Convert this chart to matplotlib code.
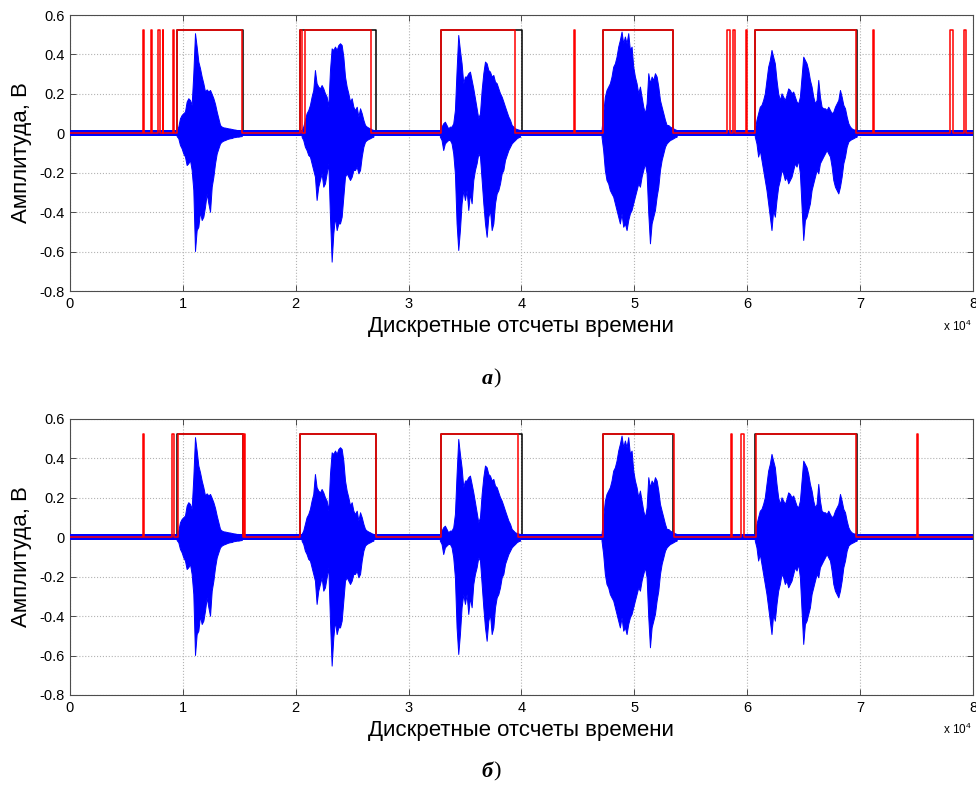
import numpy as np
import matplotlib.pyplot as plt

plt.rcParams['font.family'] = ['Liberation Sans', 'DejaVu Sans']
plt.rcParams['mathtext.fontset'] = 'custom'
plt.rcParams['mathtext.rm'] = 'Liberation Sans'

## ------------------- 1. data
# speech signal envelope, read every 148 samples inside each word
step = 148
seg_start = [9448, 20518, 32771, 47090, 60670]

seg1_hi = [0.017, 0.034, 0.076, 0.093, 0.102, 0.110, 0.161, 0.178, 0.169, 0.144,
           0.305, 0.508, 0.440, 0.364, 0.330, 0.288, 0.254, 0.212, 0.223, 0.212,
           0.220, 0.200, 0.178, 0.149, 0.110, 0.076, 0.042, 0.034, 0.030, 0.029,
           0.027, 0.025, 0.024, 0.022, 0.020, 0.019, 0.017, 0.017, 0.015, 0.014]
seg1_lo = [-0.014, -0.025, -0.059, -0.076, -0.102, -0.118, -0.161, -0.152, -0.135, -0.186,
           -0.288, -0.597, -0.491, -0.474, -0.398, -0.440, -0.423, -0.372, -0.305, -0.355,
           -0.398, -0.271, -0.220, -0.152, -0.102, -0.076, -0.051, -0.042, -0.037, -0.034,
           -0.030, -0.027, -0.025, -0.024, -0.020, -0.019, -0.017, -0.017, -0.015, -0.014]

seg2_hi = [0.017, 0.034, 0.068, 0.102, 0.118, 0.144, 0.186, 0.220, 0.321, 0.254,
           0.237, 0.228, 0.245, 0.228, 0.203, 0.186, 0.135, 0.321, 0.431, 0.423,
           0.440, 0.423, 0.448, 0.457, 0.448, 0.389, 0.288, 0.237, 0.203, 0.161,
           0.178, 0.135, 0.118, 0.135, 0.085, 0.127, 0.102, 0.068, 0.042, 0.034,
           0.029, 0.025, 0.020, 0.017]
seg2_lo = [-0.017, -0.034, -0.068, -0.085, -0.110, -0.118, -0.152, -0.186, -0.220, -0.338,
           -0.271, -0.237, -0.203, -0.271, -0.254, -0.203, -0.152, -0.423, -0.651, -0.508,
           -0.423, -0.491, -0.457, -0.457, -0.423, -0.321, -0.220, -0.203, -0.220, -0.237,
           -0.220, -0.186, -0.186, -0.169, -0.203, -0.186, -0.118, -0.068, -0.042, -0.034,
           -0.029, -0.025, -0.020, -0.017]

seg3_hi = [0.017, 0.034, 0.051, 0.059, 0.042, 0.025, 0.034, 0.034, 0.051, 0.118,
           0.321, 0.499, 0.423, 0.355, 0.254, 0.288, 0.288, 0.305, 0.313, 0.271,
           0.228, 0.178, 0.127, 0.076, 0.102, 0.220, 0.305, 0.364, 0.355, 0.321,
           0.313, 0.288, 0.296, 0.262, 0.254, 0.228, 0.203, 0.186, 0.161, 0.135,
           0.110, 0.085, 0.068, 0.042, 0.034, 0.025, 0.022, 0.019, 0.017]
seg3_lo = [-0.017, -0.034, -0.085, -0.051, -0.042, -0.034, -0.034, -0.051, -0.102, -0.203,
           -0.457, -0.592, -0.491, -0.355, -0.288, -0.338, -0.288, -0.389, -0.305, -0.355,
           -0.237, -0.186, -0.152, -0.102, -0.118, -0.237, -0.355, -0.457, -0.525, -0.423,
           -0.389, -0.491, -0.457, -0.355, -0.305, -0.288, -0.254, -0.203, -0.186, -0.135,
           -0.110, -0.085, -0.068, -0.051, -0.042, -0.034, -0.025, -0.020, -0.017]

seg4_hi = [0.017, 0.102, 0.186, 0.220, 0.237, 0.254, 0.288, 0.338, 0.355, 0.389,
           0.440, 0.474, 0.516, 0.457, 0.491, 0.457, 0.508, 0.423, 0.440, 0.338,
           0.288, 0.254, 0.203, 0.237, 0.186, 0.135, 0.102, 0.152, 0.305, 0.254,
           0.288, 0.271, 0.305, 0.288, 0.237, 0.169, 0.135, 0.102, 0.068, 0.042,
           0.042, 0.034, 0.029, 0.025, 0.020, 0.017]
seg4_lo = [-0.017, -0.085, -0.186, -0.237, -0.254, -0.288, -0.305, -0.321, -0.355, -0.389,
           -0.423, -0.457, -0.406, -0.474, -0.457, -0.491, -0.440, -0.406, -0.389, -0.355,
           -0.321, -0.288, -0.254, -0.271, -0.220, -0.186, -0.152, -0.203, -0.406, -0.558,
           -0.457, -0.423, -0.389, -0.321, -0.271, -0.186, -0.135, -0.102, -0.068, -0.051,
           -0.042, -0.034, -0.030, -0.025, -0.020, -0.017]

seg5_hi = [0.017, 0.068, 0.102, 0.135, 0.144, 0.169, 0.203, 0.271, 0.338, 0.372,
           0.423, 0.389, 0.355, 0.271, 0.203, 0.169, 0.203, 0.186, 0.169, 0.195,
           0.228, 0.220, 0.203, 0.212, 0.186, 0.161, 0.152, 0.186, 0.288, 0.389,
           0.372, 0.355, 0.321, 0.271, 0.237, 0.186, 0.152, 0.169, 0.271, 0.186,
           0.135, 0.127, 0.127, 0.118, 0.135, 0.118, 0.102, 0.110, 0.135, 0.152,
           0.169, 0.220, 0.186, 0.144, 0.127, 0.085, 0.051, 0.034, 0.025, 0.020,
           0.019, 0.017]
seg5_lo = [-0.017, -0.051, -0.118, -0.085, -0.135, -0.186, -0.237, -0.288, -0.355, -0.423,
           -0.491, -0.389, -0.423, -0.338, -0.271, -0.237, -0.186, -0.203, -0.237, -0.220,
           -0.254, -0.237, -0.220, -0.186, -0.152, -0.169, -0.135, -0.203, -0.372, -0.541,
           -0.440, -0.423, -0.389, -0.355, -0.288, -0.254, -0.220, -0.186, -0.203, -0.152,
           -0.135, -0.118, -0.102, -0.085, -0.102, -0.118, -0.169, -0.237, -0.271, -0.288,
           -0.305, -0.271, -0.220, -0.152, -0.118, -0.068, -0.042, -0.034, -0.029, -0.025,
           -0.020, -0.017]

seg_hi = [seg1_hi, seg2_hi, seg3_hi, seg4_hi, seg5_hi]
seg_lo = [seg1_lo, seg2_lo, seg3_lo, seg4_lo, seg5_lo]
noise_hi = 0.015
noise_lo = -0.015
n_samples = 80000

# reference speech marks (black) and detector output (red), (on, off) in samples
vad_level = 0.525
ref_marks = [(9520, 15300), (20370, 27080), (32860, 40010), (47240, 53440), (60730, 69740)]
vad_a = [(6500, 6580), (7180, 7260), (7790, 7960), (8200, 8280), (9120, 9200),
         (9520, 15230), (20370, 20520), (20810, 26630), (32860, 39470), (44640, 44760),
         (47240, 53440), (58250, 58460), (58700, 58960), (59850, 59960), (60730, 69620),
         (71100, 71240), (78000, 78240), (79210, 79360)]
vad_b = [(6490, 6570), (9030, 9240), (9540, 15350), (15430, 15520), (20400, 27080),
         (32830, 39650), (47240, 53500), (58520, 58660), (59490, 59720), (60760, 69680),
         (75050, 75170)]

yticks = [-0.8, -0.6, -0.4, -0.2, 0, 0.2, 0.4, 0.6]
ytick_labels = ['-0.8', '-0.6', '-0.4', '-0.2', '0', '0.2', '0.4', '0.6']
xticks = [0, 10000, 20000, 30000, 40000, 50000, 60000, 70000, 80000]
xtick_labels = ['0', '1', '2', '3', '4', '5', '6', '7', '8']


def step_path(marks, level):
    xs = [0]
    ys = [0]
    for on, off in marks:
        xs += [on, on, off, off]
        ys += [0, level, level, 0]
    xs.append(n_samples)
    ys.append(0)
    return xs, ys


## ------------------- 2. figure
fig = plt.figure(figsize=(9.76, 7.87), dpi=100)
ax_a = fig.add_axes([0.0717, 0.6302, 0.9252, 0.3507])
ax_b = fig.add_axes([0.0717, 0.1169, 0.9252, 0.3507])

for ax, vad in zip([ax_a, ax_b], [vad_a, vad_b]):
    bx, by = step_path(ref_marks, vad_level)
    ax.plot(bx, by, color='black', linewidth=1.1, zorder=2)

    ax.fill_between([0, n_samples], noise_lo, noise_hi, color='blue', linewidth=0, zorder=3)
    for st, hi, lo in zip(seg_start, seg_hi, seg_lo):
        xs = st + step * np.arange(len(hi))
        ax.fill_between(xs, lo, hi, color='blue', edgecolor='blue', linewidth=0.7, zorder=3)

    rx, ry = step_path(vad, vad_level)
    ax.plot(rx, ry, color='red', linewidth=1.1, zorder=4)

    ax.set_xlim(0, n_samples)
    ax.set_ylim(-0.8, 0.6)
    ax.set_xticks(xticks)
    ax.set_xticklabels(xtick_labels)
    ax.set_yticks(yticks)
    ax.set_yticklabels(ytick_labels)
    ax.tick_params(direction='in', length=4, width=0.6, labelsize=10.5, top=True, right=True,
                   colors='0.2', labelcolor='black', pad=4)
    ax.grid(True, linestyle=':', linewidth=0.8, color='0.7')
    for sp in ax.spines.values():
        sp.set_color('0.3')
        sp.set_linewidth(0.8)
    ax.set_ylabel('Амплитуда, В', fontsize=16)
    ax.yaxis.set_label_coords(-0.042, 0.5)

fig.text(0.534, 0.5845, 'Дискретные отсчеты времени', fontsize=16, ha='center', va='center')
fig.text(0.534, 0.0724, 'Дискретные отсчеты времени', fontsize=16, ha='center', va='center')
fig.text(0.996, 0.585, r'x 10$^{4}$', fontsize=8.5, ha='right', va='center')
fig.text(0.996, 0.073, r'x 10$^{4}$', fontsize=8.5, ha='right', va='center')

fig.text(0.505, 0.519, 'а', fontsize=16, fontweight='bold', style='italic',
         family='Liberation Serif', ha='right', va='center')
fig.text(0.505, 0.519, ')', fontsize=16, family='Liberation Serif', ha='left', va='center')
fig.text(0.505, 0.019, 'б', fontsize=16, fontweight='bold', style='italic',
         family='Liberation Serif', ha='right', va='center')
fig.text(0.505, 0.019, ')', fontsize=16, family='Liberation Serif', ha='left', va='center')

plt.savefig('out.png', dpi=100)
